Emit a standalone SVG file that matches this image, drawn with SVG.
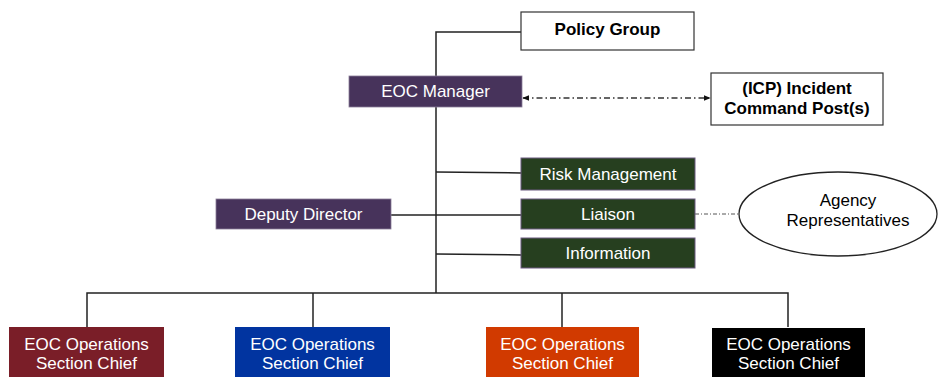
<svg xmlns="http://www.w3.org/2000/svg" width="949" height="377" viewBox="0 0 949 377">
<style>
text{font-family:"Liberation Sans",Arial,sans-serif;font-size:17px;text-anchor:middle}
.w{fill:#ffffff}
.b{fill:#000000;font-weight:bold}
.k{fill:#000000}
.line{fill:none;stroke:#222222;stroke-width:1.5}
.dash{fill:none;stroke:#333333;stroke-width:1.3;stroke-dasharray:6 3 1.5 3}
.dot{fill:none;stroke:#555555;stroke-width:1;stroke-dasharray:4 2 1 2}
.wbox{fill:#ffffff;stroke:#333333;stroke-width:1.2}
.purple{fill:#47335b;stroke:#8a7d98;stroke-width:0.8}
.green{fill:#263f1f;stroke:#6b5a80;stroke-width:1}
</style>
<defs>
<marker id="ah" viewBox="0 0 10 10" refX="9" refY="5" markerWidth="7" markerHeight="7" orient="auto-start-reverse" markerUnits="userSpaceOnUse">
<path d="M0,1 L10,5 L0,9 z" fill="#111111"/>
</marker>
</defs>
<g id="connectors">
<path class="line" d="M521,32 H436 V293"/>
<path class="line" d="M436,172 L521,173"/>
<path class="line" d="M391,215 L521,215"/>
<path class="line" d="M436,254 L521,255"/>
<path class="line" d="M87,327 V293 H788 V327"/>
<path class="line" d="M313,293 V327"/>
<path class="line" d="M562,293 V327"/>
<path class="dash" d="M523,98 H710" marker-start="url(#ah)" marker-end="url(#ah)"/>
<path class="dot" d="M695,214 H739"/>
</g>
<g id="policy-group">
<rect class="wbox" x="521" y="12" width="173" height="38"/>
<text class="b" x="607.5" y="35">Policy Group</text>
</g>
<g id="eoc-manager">
<rect class="purple" x="349" y="76" width="173" height="31"/>
<text class="w" x="435.5" y="97">EOC Manager</text>
</g>
<g id="icp">
<rect class="wbox" x="711" y="73" width="172" height="52"/>
<text class="b" x="797" y="94">(ICP) Incident</text>
<text class="b" x="797" y="114">Command Post(s)</text>
</g>
<g id="risk-management">
<rect class="green" x="521" y="158" width="174" height="32"/>
<text class="w" x="608" y="180">Risk Management</text>
</g>
<g id="liaison">
<rect class="green" x="521" y="199" width="174" height="30"/>
<text class="w" x="608" y="220">Liaison</text>
</g>
<g id="information">
<rect class="green" x="521" y="238" width="174" height="30"/>
<text class="w" x="608" y="259">Information</text>
</g>
<g id="deputy-director">
<rect class="purple" x="216" y="199" width="175" height="30"/>
<text class="w" x="303.5" y="220">Deputy Director</text>
</g>
<g id="agency-representatives">
<ellipse cx="838" cy="214" rx="99" ry="42" fill="#ffffff" stroke="#222222" stroke-width="1.3"/>
<text class="k" x="848" y="206">Agency</text>
<text class="k" x="848" y="226">Representatives</text>
</g>
<g id="ops-chief-1">
<rect x="9" y="327" width="155" height="55" fill="#7a1e28"/>
<text class="w" x="86.5" y="350">EOC Operations</text>
<text class="w" x="86.5" y="369">Section Chief</text>
</g>
<g id="ops-chief-2">
<rect x="235" y="327" width="155" height="55" fill="#0134a0"/>
<text class="w" x="312.5" y="350">EOC Operations</text>
<text class="w" x="312.5" y="369">Section Chief</text>
</g>
<g id="ops-chief-3">
<rect x="486" y="327" width="153" height="55" fill="#d13a00"/>
<text class="w" x="562.5" y="350">EOC Operations</text>
<text class="w" x="562.5" y="369">Section Chief</text>
</g>
<g id="ops-chief-4">
<rect x="712" y="328" width="153" height="55" fill="#000000"/>
<text class="w" x="788.5" y="350">EOC Operations</text>
<text class="w" x="788.5" y="369">Section Chief</text>
</g>
</svg>
